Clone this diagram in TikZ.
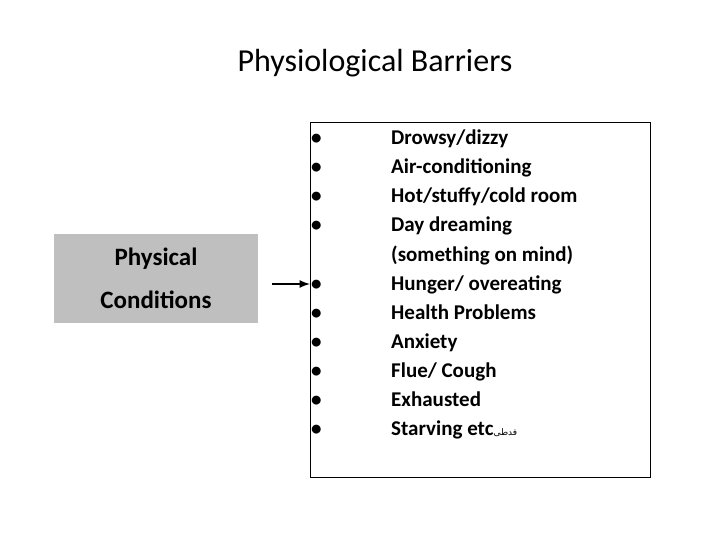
\documentclass[tikz,border=0pt]{standalone}
\usepackage{fontspec}
\setmainfont{Carlito}
\newfontfamily\arabicfont[Script=Arabic]{DejaVu Sans}
\TeXXeTstate=1
\begin{document}
\begin{tikzpicture}[x=1pt,y=-1pt,
  item/.style={anchor=base west,font=\fontsize{21}{24}\selectfont\bfseries,inner sep=0},
  bul/.style={anchor=base west,font=\fontsize{21}{24}\selectfont\bfseries,inner sep=0}]
\useasboundingbox (0,0) rectangle (720,540);
\node (title) at (375,63) {\fontsize{32}{38}\selectfont Physiological Barriers};
\node[fill=black!25,minimum width=204,minimum height=89,align=center,
  font=\fontsize{25}{43}\selectfont\bfseries] (pc) at (156,278.5) {Physical\\Conditions};
\node[draw=black,line width=0.8pt,minimum width=340,minimum height=355,anchor=north west] (list) at (310,122) {};
\draw[line width=2.5pt,-latex] (272,284) -- (list.west |- 0,284);
\foreach \t [count=\i] in {Drowsy/dizzy,Air-conditioning,Hot/stuffy/cold room,Day dreaming}{
  \node[bul] at (311,{145+29*(\i-1)}) {•};
  \node[item] at (391,{145+29*(\i-1)}) {\t};}
\node[item] at (391,261) {(something on mind)};
\foreach \t [count=\i] in {Hunger/ overeating,Health Problems,Anxiety,Flue/ Cough,Exhausted,Starving etc{\arabicfont\fontsize{9}{10}\mdseries\beginR فدطى\endR}}{
  \node[bul] at (311,{290+29*(\i-1)}) {•};
  \node[item] at (391,{290+29*(\i-1)}) {\t};}
\end{tikzpicture}
\end{document}
